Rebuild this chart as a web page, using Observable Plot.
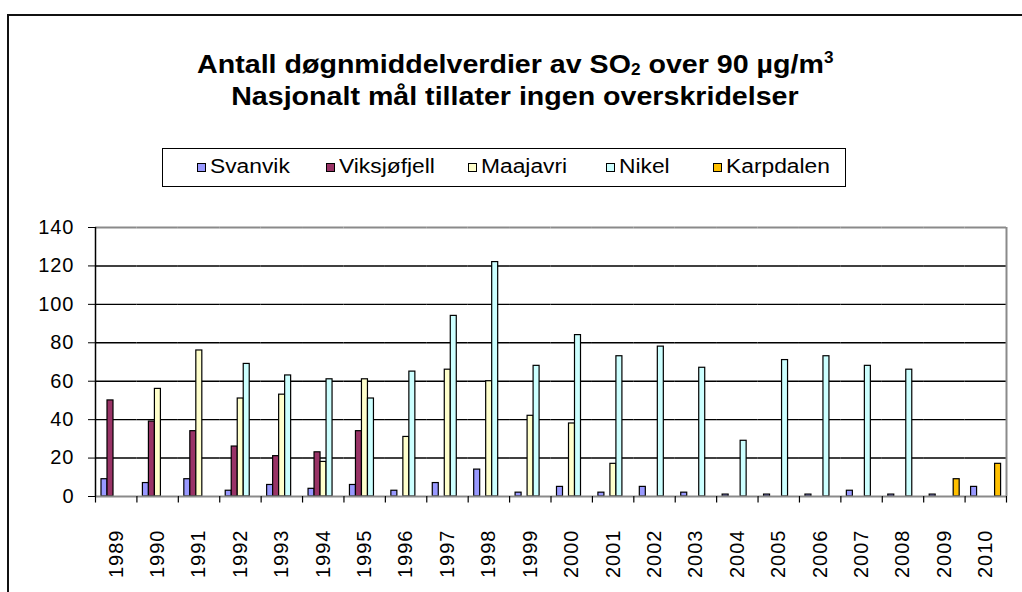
<!DOCTYPE html>
<html>
<head>
<meta charset="utf-8">
<script src="https://cdn.jsdelivr.net/npm/d3@7"></script>
<script src="https://cdn.jsdelivr.net/npm/@observablehq/plot@0.6"></script>
<style>
html,body{margin:0;padding:0;background:#fff;}
body{width:1022px;height:592px;position:relative;overflow:hidden;font-family:"Liberation Sans",Arial,sans-serif;color:#000;}
#frame{position:absolute;left:7px;top:14px;width:1100px;height:700px;border-left:2px solid #111;border-top:2px solid #111;box-sizing:border-box;}
#chart{position:absolute;left:0;top:0;}
#title{position:absolute;left:0;width:1030px;top:48px;text-align:center;font-weight:bold;font-size:26px;line-height:32px;}
#title div span.t{display:inline-block;transform:scaleX(1.1);}
sub,sup{font-size:0.6em;line-height:0;}
sub{vertical-align:-0.15em;}
#legend{position:absolute;left:162px;top:148px;width:682px;height:37px;border:1.5px solid #000;}
.item{position:absolute;top:0;height:37px;}
.sw{position:absolute;top:14px;width:9px;height:9px;border:1px solid #000;box-sizing:border-box;}
.lt{position:absolute;left:13px;top:6px;font-size:20px;line-height:23px;white-space:nowrap;transform:scaleX(1.14);transform-origin:left center;}
</style>
</head>
<body>
<div id="frame"></div>
<div id="chart"></div>
<div id="title">
  <div><span class="t">Antall døgnmiddelverdier av SO<sub>2</sub> over 90 µg/m<sup>3</sup></span></div>
  <div><span class="t">Nasjonalt mål tillater ingen overskridelser</span></div>
</div>
<div id="legend"></div>
<script>
const years = [1989,1990,1991,1992,1993,1994,1995,1996,1997,1998,1999,2000,2001,2002,2003,2004,2005,2006,2007,2008,2009,2010];
const stations = ["Svanvik","Viksjøfjell","Maajavri","Nikel","Karpdalen"];
const svanvik     = [9,7,9,3,6,4,6,3,7,14,2,5,2,5,2,1,1,1,3,1,1,5];
const viksjofjell = [50,39,34,26,21,23,34,0,0,0,0,0,0,0,0,0,0,0,0,0,0,0];
const maajavri    = [0,56,76,51,53,18,61,31,66,60,42,38,17,0,0,0,0,0,0,0,0,0];
const nikel       = [0,0,0,69,63,61,51,65,94,122,68,84,73,78,67,29,71,73,68,66,0,0];
const karpdalen   = [0,0,0,0,0,0,0,0,0,0,0,0,0,0,0,0,0,0,0,0,9,17];
const colors = ["#9999FF","#993366","#FFFFCC","#CCFFFF","#FFC000"];
const yTicks = [0,20,40,60,80,100,120,140];

const series = [svanvik, viksjofjell, maajavri, nikel, karpdalen];
const data = years.flatMap((yr, i) => stations.map((s, j) => ({year: String(yr), station: s, value: series[j][i]})))
  .filter(d => d.value > 0);

const W = 1022, H = 592, mL = 95, mR = 16, mT = 227, mB = 96;
const fw = (W - mL - mR) / years.length;
const yearStr = years.map(String);
const lastYear = [yearStr[yearStr.length - 1]];

const chart = Plot.plot({
  width: W, height: H,
  marginLeft: mL, marginRight: mR, marginTop: mT, marginBottom: mB,
  style: {fontFamily: "'Liberation Sans', Arial, sans-serif", fontSize: "20px", color: "#000", background: "transparent", letterSpacing: "1px"},
  fx: {domain: yearStr, padding: 0, round: false, axis: "bottom", label: null, tickSize: 0, tickPadding: 33, tickRotate: -90},
  x: {domain: stations, paddingInner: 0, paddingOuter: 0.95, axis: null},
  y: {domain: [0, 140], ticks: yTicks, tickSize: 7, tickPadding: 14, label: null},
  color: {domain: stations, range: colors},
  marks: [
    Plot.ruleY(yTicks.slice(1, -1), {stroke: "#000", strokeWidth: 1.4}),
    Plot.barY(data, {fx: "year", x: "station", y: "value", fill: "station", stroke: "#000", strokeWidth: 1.2}),
    Plot.ruleY([140], {stroke: "#8a8a8a", strokeWidth: 2}),
    Plot.ruleY([0], {stroke: "#8a8a8a", strokeWidth: 2}),
    Plot.ruleX(lastYear, {fx: d => d, x: null, dx: fw / 2, y1: 0, y2: 140, stroke: "#8a8a8a", strokeWidth: 2}),
    Plot.ruleX([yearStr[0]], {fx: d => d, x: null, dx: -fw / 2, y1: 0, y2: 140, stroke: "#000", strokeWidth: 1.5}),
    Plot.ruleX(yearStr, {fx: d => d, x: null, dx: -fw / 2, y1: 0, y2: -3.4, stroke: "#000", strokeWidth: 1.2}),
    Plot.ruleX(lastYear, {fx: d => d, x: null, dx: fw / 2, y1: 0, y2: -3.4, stroke: "#000", strokeWidth: 1.2})
  ]
});
document.getElementById("chart").appendChild(chart);

const legendX = [34, 163, 305, 443, 550];
const legend = document.getElementById("legend");
stations.forEach((s, i) => {
  const item = document.createElement("div");
  item.className = "item";
  item.style.left = legendX[i] + "px";
  const sw = document.createElement("div");
  sw.className = "sw";
  sw.style.background = colors[i];
  const t = document.createElement("div");
  t.className = "lt";
  t.textContent = s;
  item.appendChild(sw);
  item.appendChild(t);
  legend.appendChild(item);
});
</script>
</body>
</html>
